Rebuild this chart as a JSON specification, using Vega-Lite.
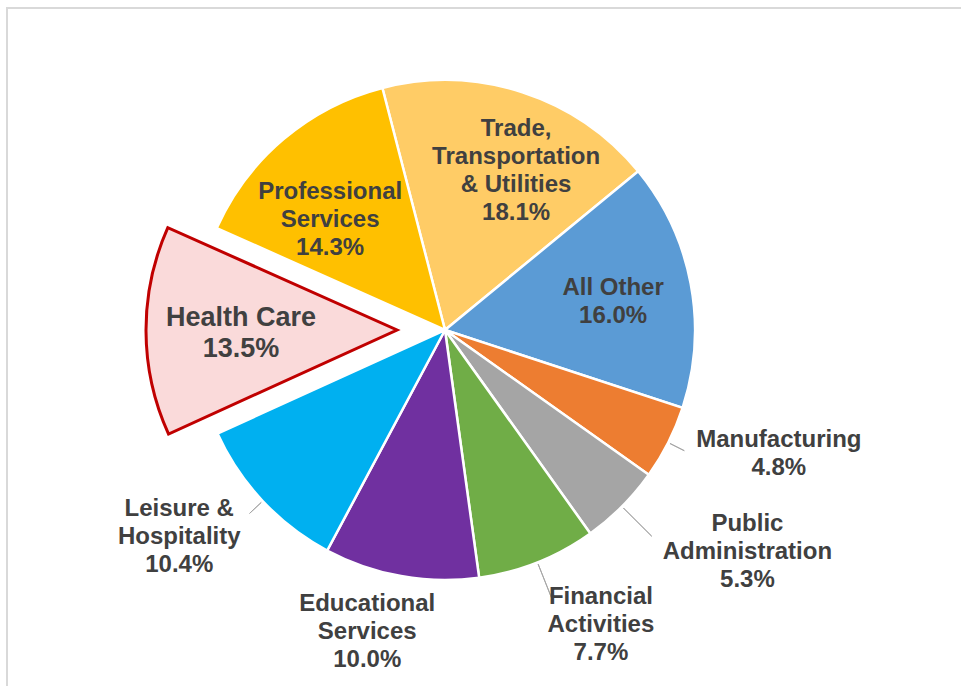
{
  "$schema": "https://vega.github.io/schema/vega-lite/v6.json",
  "width": 960,
  "height": 685,
  "autosize": "none",
  "padding": {"left": 7, "top": 8, "right": 0, "bottom": 0},
  "background": "white",
  "view": {"stroke": "#d9d9d9", "strokeWidth": 2},
  "config": {
    "view": {"stroke": "#d9d9d9", "strokeWidth": 2},
    "text": {"font": "Liberation Sans", "fontWeight": "bold", "fontSize": 24, "color": "#404040", "lineHeight": 28, "align": "center", "baseline": "middle", "lineBreak": "\n"}
  },
  "data": {
    "values": [
      {"idx": 1, "cat": "Trade, Transportation & Utilities", "label": "Trade,\nTransportation\n& Utilities\n18.1%", "value": 18.1},
      {"idx": 2, "cat": "All Other", "label": "All Other\n16.0%", "value": 16.0},
      {"idx": 3, "cat": "Manufacturing", "label": "Manufacturing\n4.8%", "value": 4.8},
      {"idx": 4, "cat": "Public Administration", "label": "Public\nAdministration\n5.3%", "value": 5.3},
      {"idx": 5, "cat": "Financial Activities", "label": "Financial\nActivities\n7.7%", "value": 7.7},
      {"idx": 6, "cat": "Educational Services", "label": "Educational\nServices\n10.0%", "value": 10.0},
      {"idx": 7, "cat": "Leisure & Hospitality", "label": "Leisure &\nHospitality\n10.4%", "value": 10.4},
      {"idx": 8, "cat": "Health Care", "label": "Health Care\n13.5%", "value": 13.5},
      {"idx": 9, "cat": "Professional Services", "label": "Professional\nServices\n14.3%", "value": 14.3}
    ]
  },
  "transform": [
    {"stack": "value", "groupby": [], "sort": [{"field": "idx", "order": "ascending"}], "as": ["start", "end"]}
  ],
  "layer": [
    {
      "transform": [{"filter": "datum.cat !== 'Health Care'"}],
      "mark": {"type": "arc", "x": 438, "y": 322, "radius": 250, "stroke": "white", "strokeWidth": 2.5},
      "encoding": {
        "theta": {"field": "start", "type": "quantitative", "stack": null, "scale": {"domain": [0, 100.1], "range": [-0.2531, 6.0301]}},
        "theta2": {"field": "end"},
        "color": {
          "field": "cat", "type": "nominal", "legend": null,
          "scale": {
            "domain": ["Trade, Transportation & Utilities", "All Other", "Manufacturing", "Public Administration", "Financial Activities", "Educational Services", "Leisure & Hospitality", "Health Care", "Professional Services"],
            "range": ["#FFCC66", "#5B9BD5", "#ED7D31", "#A5A5A5", "#70AD47", "#7030A0", "#00B0F0", "#FADADA", "#FFC000"]
          }
        }
      }
    },
    {
      "transform": [{"filter": "datum.cat === 'Health Care'"}],
      "mark": {"type": "arc", "x": 390, "y": 322, "radius": 251, "fill": "#FADADA", "stroke": "#C00000", "strokeWidth": 3, "strokeJoin": "miter"},
      "encoding": {
        "theta": {"field": "start", "type": "quantitative", "stack": null, "scale": {"domain": [0, 100.1], "range": [-0.2531, 6.0301]}},
        "theta2": {"field": "end"}
      }
    },
    {
      "transform": [
        {"fold": ["start", "end"], "as": ["k", "v"]},
        {"aggregate": [{"op": "mean", "field": "v", "as": "mid"}], "groupby": ["cat", "label"]}
      ],
      "layer": [
        {
          "transform": [{"filter": "datum.cat === 'Manufacturing' || datum.cat === 'Leisure & Hospitality'"}],
          "mark": {"type": "arc", "x": 438, "y": 322, "radius": 268, "radius2": 252, "fillOpacity": 0, "stroke": "#a6a6a6", "strokeWidth": 1},
          "encoding": {
            "theta": {"field": "mid", "type": "quantitative", "stack": null, "scale": {"domain": [0, 100.1], "range": [-0.2531, 6.0301]}},
            "theta2": {"field": "mid"}
          }
        },
        {
          "transform": [{"filter": "datum.cat === 'Public Administration' || datum.cat === 'Financial Activities'"}],
          "mark": {"type": "arc", "x": 438, "y": 322, "radius": 292, "radius2": 252, "fillOpacity": 0, "stroke": "#a6a6a6", "strokeWidth": 1},
          "encoding": {
            "theta": {"field": "mid", "type": "quantitative", "stack": null, "scale": {"domain": [0, 100.1], "range": [-0.2531, 6.0301]}},
            "theta2": {"field": "mid"}
          }
        },
        {
          "transform": [{"filter": "datum.cat === 'Trade, Transportation & Utilities'"}],
          "mark": {"type": "text", "x": 438, "y": 322, "radius": 165, "dx": 20, "dy": -44},
          "encoding": {
            "theta": {"field": "mid", "type": "quantitative", "stack": null, "scale": {"domain": [0, 100.1], "range": [-0.2531, 6.0301]}},
            "text": {"field": "label"}
          }
        },
        {
          "transform": [{"filter": "datum.cat === 'All Other'"}],
          "mark": {"type": "text", "x": 438, "y": 322, "radius": 170, "dx": 1, "dy": -11},
          "encoding": {
            "theta": {"field": "mid", "type": "quantitative", "stack": null, "scale": {"domain": [0, 100.1], "range": [-0.2531, 6.0301]}},
            "text": {"field": "label"}
          }
        },
        {
          "transform": [{"filter": "datum.cat === 'Professional Services'"}],
          "mark": {"type": "text", "x": 438, "y": 322, "radius": 150, "dx": -18, "dy": -23},
          "encoding": {
            "theta": {"field": "mid", "type": "quantitative", "stack": null, "scale": {"domain": [0, 100.1], "range": [-0.2531, 6.0301]}},
            "text": {"field": "label"}
          }
        },
        {
          "transform": [{"filter": "datum.cat === 'Health Care'"}],
          "mark": {"type": "text", "x": 390, "y": 322, "radius": 155, "dx": -1, "dy": -12.5, "fontSize": 27, "letterSpacing": 1, "lineHeight": 31},
          "encoding": {
            "theta": {"field": "mid", "type": "quantitative", "stack": null, "scale": {"domain": [0, 100.1], "range": [-0.2531, 6.0301]}},
            "text": {"field": "label"}
          }
        },
        {
          "transform": [{"filter": "datum.cat === 'Manufacturing'"}],
          "mark": {"type": "text", "x": 438, "y": 322, "radius": 300, "dx": 66, "dy": -25},
          "encoding": {
            "theta": {"field": "mid", "type": "quantitative", "stack": null, "scale": {"domain": [0, 100.1], "range": [-0.2531, 6.0301]}},
            "text": {"field": "label"}
          }
        },
        {
          "transform": [{"filter": "datum.cat === 'Public Administration'"}],
          "mark": {"type": "text", "x": 438, "y": 322, "radius": 300, "dx": 90, "dy": -18},
          "encoding": {
            "theta": {"field": "mid", "type": "quantitative", "stack": null, "scale": {"domain": [0, 100.1], "range": [-0.2531, 6.0301]}},
            "text": {"field": "label"}
          }
        },
        {
          "transform": [{"filter": "datum.cat === 'Financial Activities'"}],
          "mark": {"type": "text", "x": 438, "y": 322, "radius": 300, "dx": 45, "dy": -12},
          "encoding": {
            "theta": {"field": "mid", "type": "quantitative", "stack": null, "scale": {"domain": [0, 100.1], "range": [-0.2531, 6.0301]}},
            "text": {"field": "label"}
          }
        },
        {
          "transform": [{"filter": "datum.cat === 'Educational Services'"}],
          "mark": {"type": "text", "x": 438, "y": 322, "radius": 300, "dx": -25, "dy": -21},
          "encoding": {
            "theta": {"field": "mid", "type": "quantitative", "stack": null, "scale": {"domain": [0, 100.1], "range": [-0.2531, 6.0301]}},
            "text": {"field": "label"}
          }
        },
        {
          "transform": [{"filter": "datum.cat === 'Leisure & Hospitality'"}],
          "mark": {"type": "text", "x": 438, "y": 322, "radius": 300, "dx": -47, "dy": -26},
          "encoding": {
            "theta": {"field": "mid", "type": "quantitative", "stack": null, "scale": {"domain": [0, 100.1], "range": [-0.2531, 6.0301]}},
            "text": {"field": "label"}
          }
        }
      ]
    }
  ]
}
